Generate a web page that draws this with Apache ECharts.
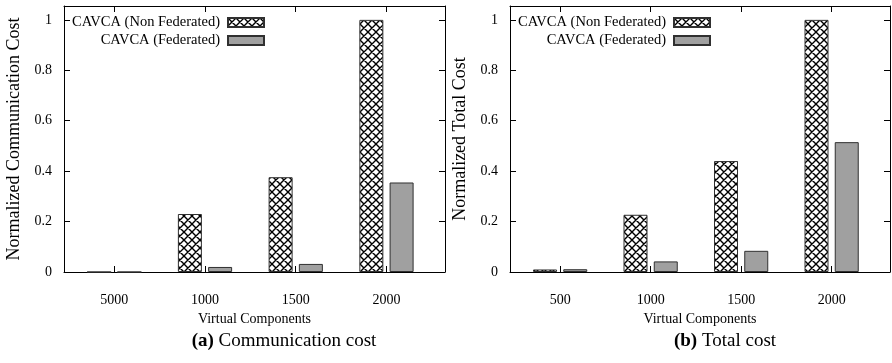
<!DOCTYPE html>
<html>
<head>
<meta charset="utf-8">
<script src="https://cdn.jsdelivr.net/npm/echarts@6/dist/echarts.min.js"></script>
<style>
  html, body { margin: 0; padding: 0; background: #ffffff; }
  #chart { width: 892px; height: 363px; }
</style>
</head>
<body>
<div id="chart"></div>
<script>
// Categories (virtual components) for each panel
const commCategories = ['5000', '1000', '1500', '2000'];
const totalCategories = ['500', '1000', '1500', '2000'];

// (a) Normalized communication cost
const commNonFederated = [0, 0.23, 0.376, 1.0];
const commFederated = [0, 0.02, 0.032, 0.355];

// (b) Normalized total cost
const totalNonFederated = [0.01, 0.227, 0.44, 1.0];
const totalFederated = [0.011, 0.042, 0.084, 0.515];

const yTicks = [0, 0.2, 0.4, 0.6, 0.8, 1];
const seriesNames = ['CAVCA (Non Federated)', 'CAVCA (Federated)'];
const captions = ['(a)', 'Communication cost', '(b)', 'Total cost'];
const yNames = ['Normalized Communication Cost', 'Normalized Total Cost'];
const xName = 'Virtual Components';

// crosshatch tile for the non-federated bars
function makeHatch() {
  const s = 8;
  const c = document.createElement('canvas');
  c.width = s; c.height = s;
  const g = c.getContext('2d');
  g.fillStyle = '#ffffff';
  g.fillRect(0, 0, s, s);
  g.strokeStyle = '#000000';
  g.lineWidth = 1.4;
  g.beginPath();
  for (let k = -1; k <= 1; k++) {
    g.moveTo(k * s - 1, -1); g.lineTo(k * s + s + 1, s + 1);
    g.moveTo(k * s + s + 1, -1); g.lineTo(k * s - 1, s + 1);
  }
  g.stroke();
  return c;
}
const hatch = { image: makeHatch(), repeat: 'repeat' };

const FONT = 'Liberation Serif';
const X_MIN = -0.554, X_MAX = 3.645, Y_MAX = 1.055;
const tickIdx = [0, 1, 2, 3];

function panelAxes(gridIndex, cats, yName) {
  const lineStyle = { color: '#000', width: 1 };
  const xs = [
    {
      type: 'value', gridIndex, min: X_MIN, max: X_MAX, position: 'bottom',
      axisLine: { show: true, onZero: false, lineStyle },
      axisTick: { show: true, inside: true, length: 6, lineStyle, customValues: tickIdx },
      axisLabel: { show: true, customValues: tickIdx, margin: 21, color: '#000',
        fontFamily: FONT, fontSize: 14, formatter: v => cats[Math.round(v)] },
      splitLine: { show: false },
      name: xName, nameLocation: 'middle', nameGap: 38,
      nameTextStyle: { fontFamily: FONT, fontSize: 14, color: '#000' }
    },
    {
      type: 'value', gridIndex, min: X_MIN, max: X_MAX, position: 'top',
      axisLine: { show: true, onZero: false, lineStyle },
      axisTick: { show: true, inside: true, length: 6, lineStyle, customValues: tickIdx },
      axisLabel: { show: false }, splitLine: { show: false }
    }
  ];
  const ys = [
    {
      type: 'value', gridIndex, min: 0, max: Y_MAX, position: 'left',
      axisLine: { show: true, onZero: false, lineStyle },
      axisTick: { show: true, inside: true, length: 6, lineStyle, customValues: yTicks },
      axisLabel: { show: true, customValues: yTicks, margin: 12, color: '#000',
        fontFamily: FONT, fontSize: 14, formatter: v => String(+v.toFixed(1)) },
      splitLine: { show: false },
      name: yName, nameLocation: 'middle', nameRotate: 90, nameGap: 41,
      nameTextStyle: { fontFamily: FONT, fontSize: 18, color: '#000' }
    },
    {
      type: 'value', gridIndex, min: 0, max: Y_MAX, position: 'right',
      axisLine: { show: true, onZero: false, lineStyle },
      axisTick: { show: true, inside: true, length: 6, lineStyle, customValues: yTicks },
      axisLabel: { show: false }, splitLine: { show: false }
    }
  ];
  return { xs, ys };
}

function barSeries(name, values, axisIdx, fill) {
  return {
    type: 'bar', name,
    xAxisIndex: axisIdx, yAxisIndex: axisIdx,
    data: values.map((v, i) => [i, v]),
    barWidth: 24, barGap: '26%',
    itemStyle: { color: fill, borderColor: '#303030', borderWidth: 1 },
    emphasis: { disabled: true },
    animation: false
  };
}

function legendFor(right) {
  return {
    data: seriesNames, orient: 'vertical', align: 'right',
    top: 15, right, padding: 0, itemGap: 3,
    itemWidth: 36, itemHeight: 9, icon: 'rect',
    selectedMode: false,
    textStyle: { fontFamily: FONT, fontSize: 14.5, lineHeight: 14, color: '#000', padding: [0, 3, 0, 0] }
  };
}

function caption(x, label, text) {
  return {
    type: 'text', x, y: 341,
    style: {
      text: '{b|' + label + '} ' + text,
      align: 'center', verticalAlign: 'middle',
      font: '19px "' + FONT + '"', fill: '#000',
      rich: { b: { fontFamily: FONT, fontSize: 19, fontWeight: 'bold', fill: '#000' } }
    }
  };
}

const a = panelAxes(0, commCategories, yNames[0]);
const b = panelAxes(1, totalCategories, yNames[1]);

const chart = echarts.init(document.getElementById('chart'), null, { renderer: 'canvas' });
chart.setOption({
  backgroundColor: '#ffffff',
  animation: false,
  grid: [
    { left: 64, top: 6, width: 381, height: 266 },
    { left: 510, top: 6, width: 380, height: 266 }
  ],
  xAxis: [...a.xs, ...b.xs],
  yAxis: [...a.ys, ...b.ys],
  legend: [legendFor(627), legendFor(181)],
  series: [
    barSeries(seriesNames[0], commNonFederated, 0, hatch),
    barSeries(seriesNames[1], commFederated, 0, '#a0a0a0'),
    barSeries(seriesNames[0], totalNonFederated, 2, hatch),
    barSeries(seriesNames[1], totalFederated, 2, '#a0a0a0')
  ],
  graphic: [
    caption(284, captions[0], captions[1]),
    caption(725, captions[2], captions[3])
  ]
});
</script>
</body>
</html>
